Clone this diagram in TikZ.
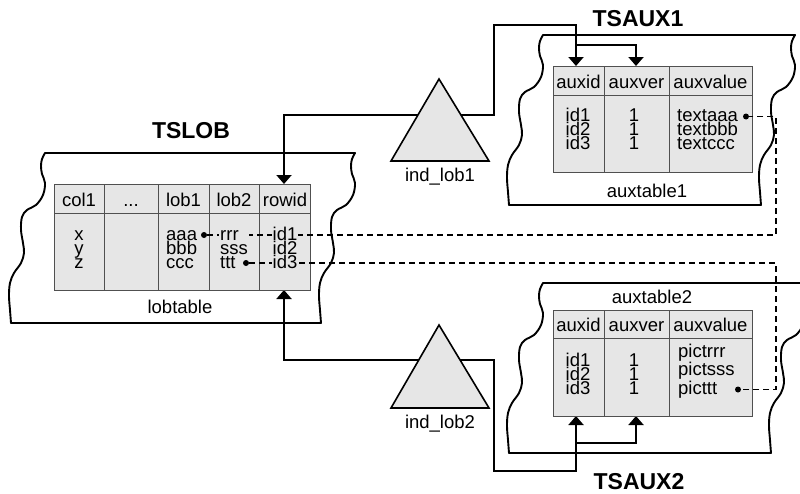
\documentclass[tikz,border=0pt]{standalone}
\usepackage{fontspec}
\setmainfont{Liberation Sans}
\usetikzlibrary{arrows.meta}
\definecolor{tblgray}{HTML}{E6E6E6}
\definecolor{gridgray}{HTML}{505050}
\pgfdeclarelayer{back}
\pgfdeclarelayer{mid}
\pgfsetlayers{back,mid,main}
\newcommand\wavyedge[2]{%
  \draw[wave, shift={(#1,#2)}] plot[smooth, tension=0.6] coordinates {(0,0) (-3,6) (-4,13) (-3,21) (0,30) (-2,42) (-9,52) (-18,57) (-23,64) (-24,77) (-22,90) (-21,100) (-24,110) (-31,120) (-35,130) (-36,143) (-35,157) (-34,170)};}
\newcommand\contnr[3]{%
  \draw[wave] (#1,#2) -- ++(#3,0);
  \wavyedge{#1}{#2}
  \wavyedge{#1+#3}{#2}
  \draw[wave] (#1-34,#2+170) -- ++(#3,0);}
\begin{document}
\begin{tikzpicture}[x=1pt,y=-1pt,
  conn/.style={line width=2pt, line join=miter},
  tip/.style={-{Triangle[width=15pt,length=9pt]}},
  wave/.style={line width=1.9pt, line cap=round, line join=round},
  tblbox/.style={fill=tblgray, draw=gridgray, line width=0.9pt, inner sep=0pt, anchor=north west},
  gridl/.style={draw=gridgray, line width=0.9pt},
  dsh/.style={line width=1.7pt, dash pattern=on 6pt off 4pt},
  dotm/.style={circle, fill=black, inner sep=0pt, minimum size=6pt},
  txt/.style={font=\fontsize{18.5}{18.5}\selectfont, inner sep=0pt, anchor=base},
  col/.style={font=\fontsize{18.5}{14}\selectfont, inner sep=0pt, align=center, anchor=base},
  lcol/.style={col, align=left, anchor=base west},
  mask/.style={fill=tblgray, inner sep=1pt},
  ttl/.style={font=\fontsize{23}{23}\selectfont\bfseries, inner sep=0pt, anchor=base},
  trif/.style={fill=tblgray, draw=black, line width=1.6pt, line join=miter}
]
\clip (0,0) rectangle (800,493);

\begin{pgfonlayer}{back}
\fill[white] (0,0) rectangle (800,493);
% containers
\contnr{45}{153}{310}
\contnr{543}{35}{252}
\contnr{543}{283}{262}

% connector coordinates
\coordinate (hubA) at (440,115);
\coordinate (kA) at (494,25);
\coordinate (rowT) at (284,184);
\coordinate (aOneIdT) at (576,66);
\coordinate (brA) at (576,45);
\coordinate (aOneVerT) at (636,66);
\coordinate (hubB) at (440,360);
\coordinate (kB) at (494,471);
\coordinate (lobB) at (284,290);
\coordinate (aTwoIdB) at (576,416);
\coordinate (brB) at (576,443);
\coordinate (aTwoVerB) at (636,416);

\draw[conn,tip] (hubA) -| (rowT);
\draw[conn,tip] (hubA) -| (kA) -| (aOneIdT);
\draw[conn,tip] (brA) -| (aOneVerT);
\draw[conn,tip] (hubB) -| (lobB);
\draw[conn,tip] (hubB) -| (kB) -| (aTwoIdB);
\draw[conn,tip] (brB) -| (aTwoVerB);

% index triangles
\draw[trif] (391,161) -- (439,79) -- (489,161) -- cycle;
\draw[trif] (391,408) -- (439,325) -- (489,408) -- cycle;

% tables
\node[tblbox, minimum width=256pt, minimum height=106pt] (lobtbl) at (54,184) {};
\draw[gridl] (54,213) -- (310,213);
\foreach \c in {104.5,158,209,259.5} \draw[gridl] (\c,184) -- (\c,290);
\node[tblbox, minimum width=199pt, minimum height=106pt] (auxA) at (553,66) {};
\draw[gridl] (553,95) -- (752,95);
\foreach \c in {604,669} \draw[gridl] (\c,66) -- (\c,172);
\node[tblbox, minimum width=199pt, minimum height=106pt] (auxB) at (553,310) {};
\draw[gridl] (553,338) -- (752,338);
\foreach \c in {604,669} \draw[gridl] (\c,310) -- (\c,416);
\end{pgfonlayer}

% labels
\node[txt] (indA) at (440,181) {ind\_lob1};
\node[txt] (indB) at (440,428) {ind\_lob2};
\node[ttl] (tslob) at (191,138) {TSLOB};
\node[ttl] (tsauxA) at (638,26) {TSAUX1};
\node[ttl] (tsauxB) at (639,489) {TSAUX2};
\node[txt] (lobl) at (180,313) {lobtable};
\node[txt] (auxlA) at (647,197) {auxtable1};
\node[txt] (auxlB) at (652,303) {auxtable2};

% lobtable text (anchor = baseline of last line)
\node[txt] (hcol) at (79,206) {col1};
\node[txt] (hdots) at (131,206) {...};
\node[txt] (hlobA) at (183.5,206) {lob1};
\node[txt] (hlobB) at (234,206) {lob2};
\node[txt] (hrow) at (285,206) {rowid};
\node[col] (cx) at (79,268) {x\\y\\z};
\node[lcol] (ca) at (166,268) {aaa\\bbb\\ccc};
\node[lcol, mask] (cr) at (219,268) {rrr\\sss\\ttt};
\node[col, mask] (cid) at (285,268) {id1\\id2\\id3};

% auxtable1 text
\node[txt] (aAh1) at (578.5,88) {auxid};
\node[txt] (aAh2) at (636.5,88) {auxver};
\node[txt] (aAh3) at (710.5,88) {auxvalue};
\node[col] (aAi) at (578,149) {id1\\id2\\id3};
\node[col] (aAv) at (634,149) {1\\1\\1};
\node[lcol] (aAx) at (677,149) {textaaa\\textbbb\\textccc};

% auxtable2 text
\node[txt] (aBh1) at (578.5,331) {auxid};
\node[txt] (aBh2) at (636.5,331) {auxver};
\node[txt] (aBh3) at (710.5,331) {auxvalue};
\node[col] (aBi) at (578,394) {id1\\id2\\id3};
\node[col] (aBv) at (634,394) {1\\1\\1};
\node[lcol] (aBx) at (678,394) {pictrrr\\pictsss\\picttt};

% dashed links
\node[dotm] (dA) at (204,235) {};
\node[dotm] (dB) at (746,116.5) {};
\coordinate (cA) at (776,116.5);
\node[dotm] (dC) at (246,263) {};
\node[dotm] (dD) at (738,389.5) {};
\coordinate (cB) at (776,389.5);
\begin{pgfonlayer}{mid}
\draw[dsh] (dA) -| (cA) -- (dB);
\draw[dsh] (dC) -| (cB) -- (dD);
\end{pgfonlayer}
\end{tikzpicture}
\end{document}
